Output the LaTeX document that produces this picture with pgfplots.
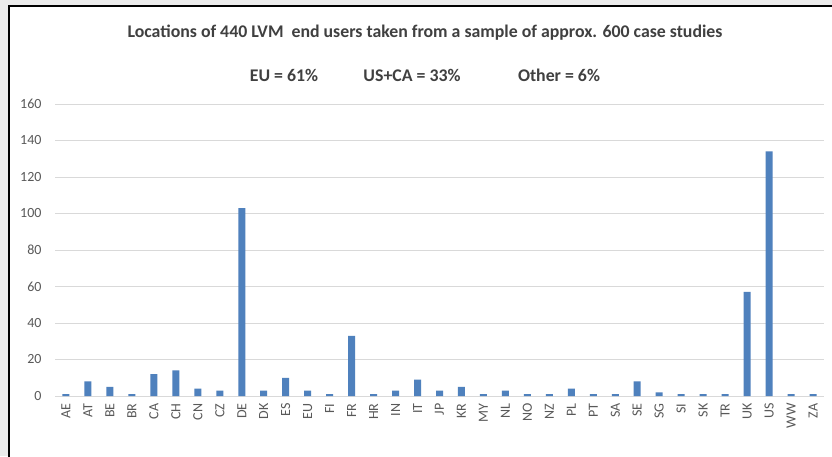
\documentclass[border=0pt]{standalone}
\usepackage{pgfplots}
\pgfplotsset{compat=1.18}
\usepackage{fontspec}
\setmainfont{Carlito}
\definecolor{barblue}{HTML}{4F81BD}
\definecolor{gridgray}{HTML}{D9D9D9}
\definecolor{ticktext}{HTML}{595959}
\definecolor{titletext}{HTML}{404040}
\definecolor{outergray}{HTML}{EBEBEB}
\begin{document}
\begin{tikzpicture}[x=1pt,y=1pt]
\useasboundingbox (0,0) rectangle (832,456);
\fill[outergray] (0,0) rectangle (832,456);
\fill[white] (9,-5) rectangle (840,450);
\draw[black, line width=2pt] (9,-5) -- (9,450) -- (840,450);
\begin{axis}[
  at={(55pt,60pt)}, anchor=south west,
  scale only axis, width=769pt, height=292pt,
  xmin=-0.5, xmax=34.5, ymin=0, ymax=160,
  ybar, bar width=7pt,
  axis line style={draw=none},
  major tick length=0pt,
  ytick={0,20,...,160},
  ymajorgrids, grid style={gridgray, line width=1pt},
  xtick={0,...,34},
  xticklabels={AE,AT,BE,BR,CA,CH,CN,CZ,DE,DK,ES,EU,FI,FR,HR,IN,IT,JP,KR,MY,NL,NO,NZ,PL,PT,SA,SE,SG,SI,SK,TR,UK,US,WW,ZA},
  x tick label style={rotate=90, anchor=east, font=\fontsize{14}{15}\selectfont, color=ticktext, xshift=-4pt},
  y tick label style={font=\fontsize{14}{15}\selectfont, color=ticktext, anchor=east, xshift=-10pt},
  /pgf/number format/assume math mode=true,
]
\addplot[fill=barblue, draw=none] coordinates {
(0,1) (1,8) (2,5) (3,1) (4,12) (5,14) (6,4) (7,3) (8,103) (9,3)
(10,10) (11,3) (12,1) (13,33) (14,1) (15,3) (16,9) (17,3) (18,5) (19,1)
(20,3) (21,1) (22,1) (23,4) (24,1) (25,1) (26,8) (27,2) (28,1) (29,1)
(30,1) (31,57) (32,134) (33,1) (34,1)
};
\end{axis}
\node[font=\bfseries\fontsize{17.8}{21}\selectfont, color=titletext] at (425,423) {Locations of 440 LVM\ \ end users taken from a sample of approx. 600 case studies};
\node[font=\bfseries\fontsize{17.8}{21}\selectfont, color=titletext] at (284,381) {EU = 61\%};
\node[font=\bfseries\fontsize{17.8}{21}\selectfont, color=titletext] at (412,381) {US+CA = 33\%};
\node[font=\bfseries\fontsize{17.8}{21}\selectfont, color=titletext] at (559,381) {Other = 6\%};
\end{tikzpicture}
\end{document}
